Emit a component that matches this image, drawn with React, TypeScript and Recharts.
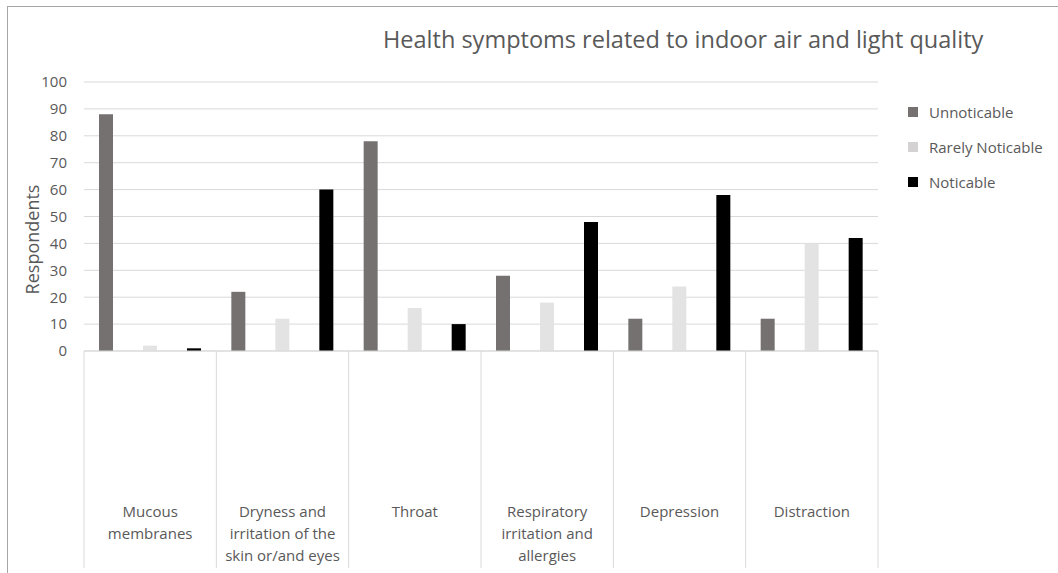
import React from "react";
import { BarChart, Bar, XAxis, YAxis, CartesianGrid, Legend } from "recharts";

const categories = [
  "Mucous membranes",
  "Dryness and irritation of the skin or/and eyes",
  "Throat",
  "Respiratory irritation and allergies",
  "Depression",
  "Distraction",
];
const unnoticable = [88, 22, 78, 28, 12, 12];
const rarelyNoticable = [2, 12, 16, 18, 24, 40];
const noticable = [1, 60, 10, 48, 58, 42];
const yTicks = [0, 10, 20, 30, 40, 50, 60, 70, 80, 90, 100];

const seriesNames = ["Unnoticable", "Rarely Noticable", "Noticable"];
const seriesColors = ["#767171", "#e4e3e3", "#000000"];
const legendColors = ["#767171", "#d4d2d2", "#000000"];

const data = categories.map((c, i) => ({
  name: c,
  unnoticable: unnoticable[i],
  rarely: rarelyNoticable[i],
  noticable: noticable[i],
}));

const W = 1058;
const H = 573;
const PLOT_LEFT = 84;
const PLOT_RIGHT = 878;
const PLOT_TOP = 82;
const PLOT_BOTTOM = 351;
const BAND = (PLOT_RIGHT - PLOT_LEFT) / categories.length;
const FONT = '"Open Sans", sans-serif';
const TEXT = "#595959";
const GRID = "#d9d9d9";

let ctx: CanvasRenderingContext2D | null = null;
function textWidth(s: string) {
  if (!ctx) ctx = document.createElement("canvas").getContext("2d");
  if (!ctx) return s.length * 7.5;
  ctx.font = '15px "Open Sans"';
  return ctx.measureText(s).width;
}

// word-wrap a category label into the band width
function wrapLabel(s: string, max = 123) {
  const words = s.split(" ");
  const lines: string[] = [];
  let cur = "";
  words.forEach((w) => {
    const test = cur ? cur + " " + w : w;
    if (cur && textWidth(test) > max) {
      lines.push(cur);
      cur = w;
    } else {
      cur = test;
    }
  });
  if (cur) lines.push(cur);
  return lines;
}

const XTick = (props: any) => {
  const { x, y, payload, index } = props;
  const half = BAND / 2;
  const lines = wrapLabel(String(payload.value));
  return (
    <g>
      <line x1={x - half} x2={x - half} y1={y} y2={y + 217} stroke={GRID} />
      {index === categories.length - 1 && (
        <line x1={x + half} x2={x + half} y1={y} y2={y + 217} stroke={GRID} />
      )}
      {lines.map((l, i) => (
        <text
          key={i}
          x={x}
          y={y + 166 + i * 22}
          textAnchor="middle"
          fill={TEXT}
          fontSize={15}
          fontFamily={FONT}
        >
          {l}
        </text>
      ))}
    </g>
  );
};

const LegendContent = () => (
  <div style={{ fontFamily: FONT, fontSize: 15, color: TEXT }}>
    {seriesNames.map((n, i) => (
      <div key={n} style={{ display: "flex", alignItems: "center", height: 35 }}>
        <span
          style={{
            display: "inline-block",
            width: 10,
            height: 10,
            background: legendColors[i],
            marginRight: 11,
          }}
        />
        {n}
      </div>
    ))}
  </div>
);

export default function App() {
  return (
    <div
      style={{
        position: "absolute",
        left: 0,
        top: 0,
        width: W,
        height: H,
        background: "#fff",
        overflow: "hidden",
      }}
    >
      <div
        style={{
          position: "absolute",
          left: 7,
          top: 6,
          right: 0,
          bottom: 0,
          borderLeft: "1px solid #a6a6a6",
          borderTop: "1px solid #a6a6a6",
        }}
      />
      <div
        style={{
          position: "absolute",
          left: 383,
          top: 23,
          fontFamily: FONT,
          fontSize: 23.5,
          color: TEXT,
          whiteSpace: "nowrap",
        }}
      >
        Health symptoms related to indoor air and light quality
      </div>
      <BarChart
        width={W}
        height={H}
        data={data}
        margin={{ top: PLOT_TOP, right: W - PLOT_RIGHT, bottom: 0, left: 0 }}
        barSize={14}
        barGap={30}
        style={{ position: "absolute", left: 0, top: 0 }}
      >
        <CartesianGrid vertical={false} stroke={GRID} />
        <XAxis
          dataKey="name"
          height={H - PLOT_BOTTOM}
          interval={0}
          tickLine={false}
          tickSize={0}
          tickMargin={0}
          axisLine={{ stroke: GRID }}
          tick={<XTick />}
        />
        <YAxis
          width={PLOT_LEFT}
          domain={[0, 100]}
          ticks={yTicks}
          axisLine={false}
          tickLine={false}
          tickSize={0}
          tickMargin={17}
          tick={{ fill: TEXT, fontSize: 15, fontFamily: FONT }}
          label={{
            content: (p: any) => {
              const vb = p.viewBox || {};
              const cx = 32;
              const cy = (vb.y ?? PLOT_TOP) + (vb.height ?? 269) / 2 + 23;
              return (
                <text
                  x={cx}
                  y={cy}
                  transform={`rotate(-90 ${cx} ${cy})`}
                  textAnchor="middle"
                  dominantBaseline="central"
                  fill={TEXT}
                  fontSize={18}
                  fontFamily={FONT}
                >
                  Respondents
                </text>
              );
            },
          }}
        />
        <Legend
          layout="vertical"
          align="center"
          verticalAlign="middle"
          content={<LegendContent />}
          wrapperStyle={{ left: 908, top: 94, width: 150 }}
        />
        <Bar dataKey="unnoticable" name={seriesNames[0]} fill={seriesColors[0]} isAnimationActive={false} />
        <Bar dataKey="rarely" name={seriesNames[1]} fill={seriesColors[1]} isAnimationActive={false} />
        <Bar dataKey="noticable" name={seriesNames[2]} fill={seriesColors[2]} isAnimationActive={false} />
      </BarChart>
    </div>
  );
}
